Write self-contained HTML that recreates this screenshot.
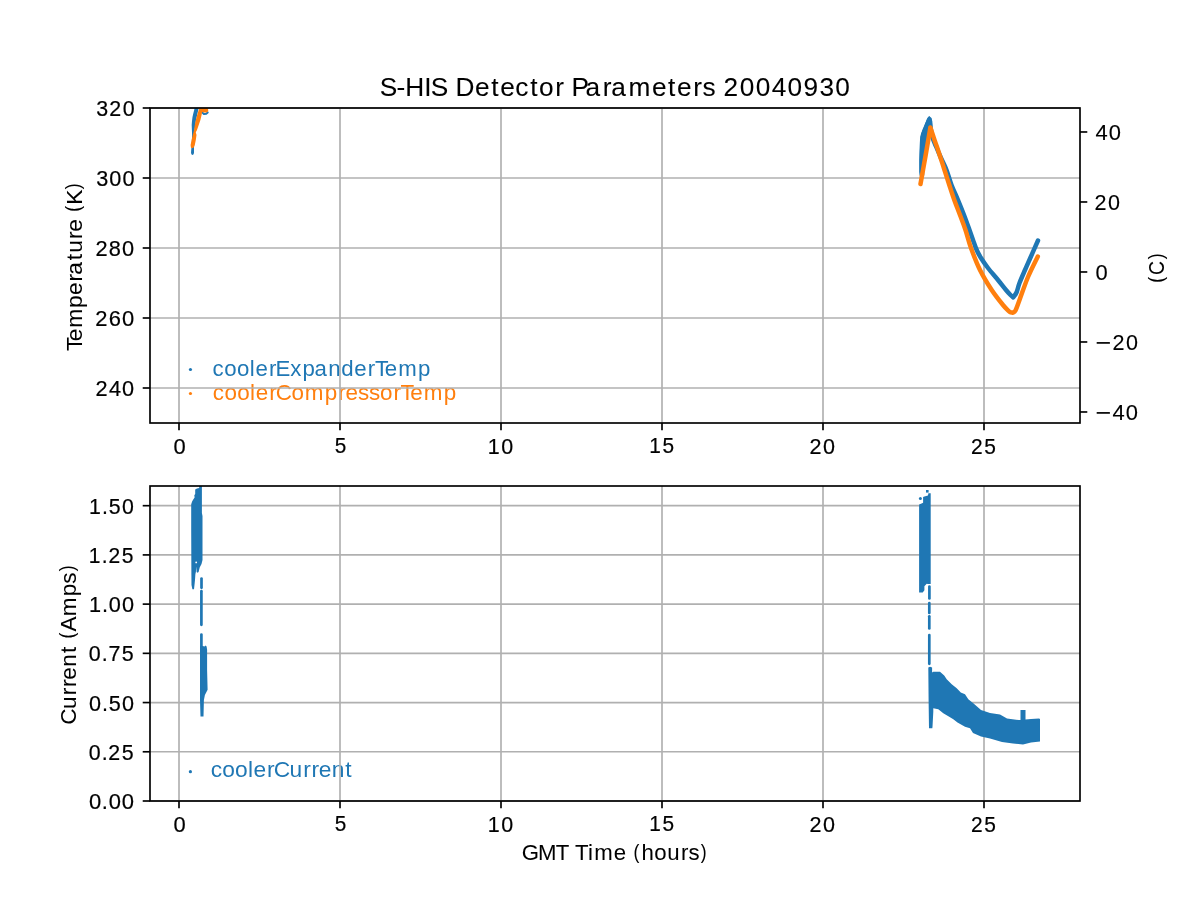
<!DOCTYPE html><html><head><meta charset="utf-8"><title>S-HIS Detector Parameters 20040930</title><style>html,body{margin:0;padding:0;background:#fff;overflow:hidden;}svg{display:block;will-change:transform;}text{font-family:"Liberation Sans",sans-serif;}</style></head><body>
<svg width="1200" height="900" viewBox="0 0 1200 900">
<rect width="1200" height="900" fill="#fff"/>
<text transform="translate(321.70 375.62) scale(1.0081 1)" x="-108.28 -96.69 -84.10 -71.28 -65.72 -52.35 -45.76 -31.30 -19.12 -7.19 6.47 19.36 32.39 45.75 52.83 62.61 75.94 95.61" y="0" font-size="22.08" fill="#1f77b4">coolerExpanderTemp</text>
<text transform="translate(334.65 399.57) scale(1.0163 1)" x="-119.91 -108.42 -95.93 -83.18 -77.69 -64.42 -57.88 -42.55 -29.35 -9.82 3.57 10.76 23.08 33.72 44.53 57.80 64.80 74.51 87.71 107.25" y="0" font-size="22.08" fill="#ff7f0e">coolerCompressorTemp</text>
<text transform="translate(282.10 777.22) scale(1.0314 1)" x="-69.26 -57.94 -45.63 -33.01 -27.66 -14.56 -8.17 7.14 20.51 28.42 35.48 48.05 61.33" y="0" font-size="22.08" fill="#1f77b4">coolerCurrent</text>
<circle cx="190.45" cy="369.5" r="1.6" fill="#1f77b4"/>
<circle cx="190.45" cy="393.5" r="1.6" fill="#ff7f0e"/>
<circle cx="190.4" cy="771.7" r="1.6" fill="#1f77b4"/>
<g stroke="#b0b0b0" stroke-width="1.6667" stroke-linecap="butt"><line x1="179.00" y1="108" x2="179.00" y2="423"/><line x1="340.00" y1="108" x2="340.00" y2="423"/><line x1="501.00" y1="108" x2="501.00" y2="423"/><line x1="662.00" y1="108" x2="662.00" y2="423"/><line x1="823.00" y1="108" x2="823.00" y2="423"/><line x1="984.00" y1="108" x2="984.00" y2="423"/><line x1="150" y1="388.00" x2="1080" y2="388.00"/><line x1="150" y1="318.00" x2="1080" y2="318.00"/><line x1="150" y1="248.00" x2="1080" y2="248.00"/><line x1="150" y1="178.00" x2="1080" y2="178.00"/><line x1="150" y1="108.00" x2="1080" y2="108.00"/></g>
<g stroke="#b0b0b0" stroke-width="1.6667" stroke-linecap="butt"><line x1="179.00" y1="486" x2="179.00" y2="801"/><line x1="340.00" y1="486" x2="340.00" y2="801"/><line x1="501.00" y1="486" x2="501.00" y2="801"/><line x1="662.00" y1="486" x2="662.00" y2="801"/><line x1="823.00" y1="486" x2="823.00" y2="801"/><line x1="984.00" y1="486" x2="984.00" y2="801"/><line x1="150" y1="801.00" x2="1080" y2="801.00"/><line x1="150" y1="751.78" x2="1080" y2="751.78"/><line x1="150" y1="702.56" x2="1080" y2="702.56"/><line x1="150" y1="653.34" x2="1080" y2="653.34"/><line x1="150" y1="604.12" x2="1080" y2="604.12"/><line x1="150" y1="554.91" x2="1080" y2="554.91"/><line x1="150" y1="505.69" x2="1080" y2="505.69"/></g>
<defs><clipPath id="cT"><rect x="150" y="108" width="930" height="315"/></clipPath><clipPath id="cA"><rect x="150" y="486" width="930" height="315"/></clipPath></defs>
<g clip-path="url(#cT)">
<polygon fill="#1f77b4" points="194.6,108.0 194.2,110.0 193.3,113.5 192.5,117.0 192.0,121.0 191.7,125.0 191.9,130.0 192.1,135.0 191.7,145.0 191.2,150.0 191.0,153.0 191.6,154.6 192.4,155.0 193.4,154.6 194.0,153.0 194.0,148.0 194.6,130.0 196.0,120.0 198.7,108.0"/>
<polyline fill="none" stroke="#1f77b4" stroke-width="2" stroke-linecap="round" stroke-linejoin="round" points="202.2,112.4 203.9,114.1 206.2,113.8 207.7,112.4"/>
<polygon fill="#ff7f0e" points="199.2,108.0 207.5,108.0 208.3,110.0 208.0,111.5 206.6,112.6 204.0,112.6 202.1,112.0 201.6,115.0 200.4,120.0 198.7,125.0 197.0,130.0 195.8,132.3 196.5,135.0 195.8,140.0 194.8,145.0 193.8,147.6 192.2,148.2 190.9,147.5 190.6,145.0 191.6,140.0 192.8,135.0 194.1,130.0 194.8,125.0 195.8,120.0 197.2,115.0 198.7,110.0"/>
<path fill="none" stroke="#1f77b4" stroke-width="4.5" stroke-linecap="round" stroke-linejoin="round" d="M922.00,175.00 C921.98,172.50 921.83,165.00 921.90,160.00 C921.97,155.00 922.22,148.83 922.40,145.00 C922.58,141.17 922.70,139.25 923.00,137.00 C923.30,134.75 923.62,133.33 924.20,131.50 C924.78,129.67 925.62,128.03 926.50,126.00 C927.38,123.97 929.00,120.42 929.50,119.30 M929.50,119.30 C929.63,120.42 929.83,123.05 930.30,126.00 C930.77,128.95 931.30,133.50 932.30,137.00 C933.30,140.50 934.85,143.50 936.30,147.00 C937.75,150.50 939.30,154.17 941.00,158.00 C942.70,161.83 944.75,165.50 946.50,170.00 C948.25,174.50 949.58,180.00 951.50,185.00 C953.42,190.00 955.92,195.00 958.00,200.00 C960.08,205.00 962.08,210.00 964.00,215.00 C965.92,220.00 968.00,225.83 969.50,230.00 C971.00,234.17 971.80,236.67 973.00,240.00 C974.20,243.33 975.37,247.00 976.70,250.00 C978.03,253.00 979.12,255.00 981.00,258.00 C982.88,261.00 985.17,264.33 988.00,268.00 C990.83,271.67 995.00,276.33 998.00,280.00 C1001.00,283.67 1003.92,287.50 1006.00,290.00 C1008.08,292.50 1009.30,293.78 1010.50,295.00 C1011.70,296.22 1012.75,296.92 1013.20,297.30 M1013.20,297.30 C1013.75,296.50 1015.45,294.88 1016.50,292.50 C1017.55,290.12 1018.08,286.75 1019.50,283.00 C1020.92,279.25 1023.17,274.25 1025.00,270.00 C1026.83,265.75 1028.33,262.42 1030.50,257.50 C1032.67,252.58 1036.75,243.33 1038.00,240.50"/>
<polygon fill="#1f77b4" points="929.6,116.0 931.2,118.5 932.3,121.1 932.5,127.0 930.4,127.5 928.5,138.0 926.5,149.0 924.5,160.0 922.5,171.0 921.5,176.5 920.0,176.8 919.2,172.0 919.2,160.0 919.5,150.0 919.8,143.3 920.2,136.7 921.1,133.6 923.3,128.7 924.7,125.1 926.9,118.9 928.3,116.8"/>
<path fill="none" stroke="#ff7f0e" stroke-width="4.5" stroke-linecap="round" stroke-linejoin="round" d="M920.50,184.00 C921.33,179.33 923.85,165.42 925.50,156.00 C927.15,146.58 929.58,132.25 930.40,127.50 M930.40,127.50 C931.08,129.58 933.23,136.25 934.50,140.00 C935.77,143.75 936.87,146.67 938.00,150.00 C939.13,153.33 940.22,156.67 941.30,160.00 C942.38,163.33 943.17,165.83 944.50,170.00 C945.83,174.17 947.67,180.00 949.30,185.00 C950.93,190.00 952.52,195.00 954.30,200.00 C956.08,205.00 958.13,210.00 960.00,215.00 C961.87,220.00 963.67,224.50 965.50,230.00 C967.33,235.50 968.58,241.33 971.00,248.00 C973.42,254.67 976.55,263.00 980.00,270.00 C983.45,277.00 987.87,284.17 991.70,290.00 C995.53,295.83 1000.20,301.53 1003.00,305.00 C1005.80,308.47 1007.17,309.57 1008.50,310.80 C1009.83,312.03 1010.25,312.10 1011.00,312.40 C1011.75,312.70 1012.67,312.57 1013.00,312.60 M1013.00,312.60 C1013.43,312.20 1014.52,312.30 1015.60,310.20 C1016.68,308.10 1017.43,305.53 1019.50,300.00 C1021.57,294.47 1024.95,284.25 1028.00,277.00 C1031.05,269.75 1036.17,259.92 1037.80,256.50"/>
</g>
<g clip-path="url(#cA)">
<polygon fill="#1f77b4" points="199.2,486.0 201.9,486.0 201.9,513.0 202.5,516.0 202.5,560.0 201.5,564.0 199.7,567.5 198.6,571.9 197.5,572.8 196.6,572.0 196.4,566.5 195.9,572.0 195.4,574.0 195.0,580.0 194.7,583.0 194.0,589.2 192.4,589.2 191.5,585.0 191.4,575.0 191.2,530.0 191.2,504.2 192.1,501.6 193.4,499.3 194.6,497.5 194.3,495.3 195.2,494.0 195.2,489.6 197.0,488.5 199.2,488.0"/>
<circle cx="196.2" cy="562.4" r="0.9" fill="#fff"/>
<g stroke="#1f77b4" stroke-width="2.7" stroke-linecap="round"><line x1="201.5" y1="578.5" x2="201.5" y2="587.8"/><line x1="201.4" y1="591.2" x2="201.4" y2="624.8"/><line x1="201.4" y1="634.6" x2="201.4" y2="646"/></g>
<polygon fill="#1f77b4" points="200.0,646.0 202.8,646.0 204.5,646.5 205.5,645.5 206.6,646.5 207.1,649.8 207.1,670.0 207.6,689.7 204.9,695.0 203.9,700.0 203.5,716.6 200.5,716.6 200.0,700.0"/>
<polygon fill="#1f77b4" points="919.1,504.4 921.0,503.8 923.1,502.7 923.1,497.0 924.4,496.4 928.0,495.6 928.4,493.3 930.7,493.3 930.7,584.1 928.0,584.1 926.7,583.7 924.4,586.3 924.4,590.3 922.7,592.6 919.1,592.6"/>
<circle cx="920.4" cy="498.4" r="1.5" fill="#1f77b4"/><rect x="926" y="490" width="2.6" height="2.6" fill="#1f77b4"/>
<g stroke="#1f77b4" stroke-width="2.7" stroke-linecap="round"><line x1="929.4" y1="586.5" x2="929.4" y2="598.4"/><line x1="929.3" y1="603" x2="929.3" y2="613"/><line x1="929.3" y1="616.3" x2="929.3" y2="628.5"/><line x1="929.3" y1="635" x2="929.3" y2="663.8"/></g>
<polygon fill="#1f77b4" points="928.3,667.5 930.0,666.8 932.1,667.5 932.1,672.5 933.3,671.7 940.0,671.7 944.2,675.4 946.7,679.2 951.7,684.2 956.7,688.3 960.8,692.5 965.0,694.2 968.3,699.2 973.0,703.0 981.0,710.0 990.0,713.0 1000.0,714.5 1007.0,718.5 1019.0,720.0 1020.5,720.0 1020.5,710.0 1025.5,710.0 1025.5,719.5 1031.0,719.0 1039.0,718.5 1040.0,719.0 1040.0,741.5 1031.0,742.5 1023.0,744.5 1013.0,743.5 1002.0,742.0 990.0,738.5 981.0,736.5 973.0,733.0 970.0,728.3 965.0,726.7 957.5,722.5 953.3,719.2 949.2,716.7 943.3,713.3 938.3,709.2 933.3,708.3 933.3,711.7 932.5,726.7 932.3,728.3 929.0,728.3 928.6,700.0"/>
</g>
<g stroke="#000" stroke-width="1.6667" stroke-linecap="butt" fill="none"><line x1="179.00" y1="423" x2="179.00" y2="430.29"/><line x1="340.00" y1="423" x2="340.00" y2="430.29"/><line x1="501.00" y1="423" x2="501.00" y2="430.29"/><line x1="662.00" y1="423" x2="662.00" y2="430.29"/><line x1="823.00" y1="423" x2="823.00" y2="430.29"/><line x1="984.00" y1="423" x2="984.00" y2="430.29"/><line x1="150" y1="388.00" x2="142.71" y2="388.00"/><line x1="150" y1="318.00" x2="142.71" y2="318.00"/><line x1="150" y1="248.00" x2="142.71" y2="248.00"/><line x1="150" y1="178.00" x2="142.71" y2="178.00"/><line x1="150" y1="108.00" x2="142.71" y2="108.00"/><line x1="1080" y1="411.98" x2="1087.29" y2="411.98"/><line x1="1080" y1="341.98" x2="1087.29" y2="341.98"/><line x1="1080" y1="271.98" x2="1087.29" y2="271.98"/><line x1="1080" y1="201.98" x2="1087.29" y2="201.98"/><line x1="1080" y1="131.98" x2="1087.29" y2="131.98"/><rect x="150" y="108" width="930" height="315" fill="none" stroke-linejoin="miter"/></g>
<g stroke="#000" stroke-width="1.6667" stroke-linecap="butt" fill="none"><line x1="179.00" y1="801" x2="179.00" y2="808.29"/><line x1="340.00" y1="801" x2="340.00" y2="808.29"/><line x1="501.00" y1="801" x2="501.00" y2="808.29"/><line x1="662.00" y1="801" x2="662.00" y2="808.29"/><line x1="823.00" y1="801" x2="823.00" y2="808.29"/><line x1="984.00" y1="801" x2="984.00" y2="808.29"/><line x1="150" y1="801.00" x2="142.71" y2="801.00"/><line x1="150" y1="751.78" x2="142.71" y2="751.78"/><line x1="150" y1="702.56" x2="142.71" y2="702.56"/><line x1="150" y1="653.34" x2="142.71" y2="653.34"/><line x1="150" y1="604.12" x2="142.71" y2="604.12"/><line x1="150" y1="554.91" x2="142.71" y2="554.91"/><line x1="150" y1="505.69" x2="142.71" y2="505.69"/><rect x="150" y="486" width="930" height="315" fill="none" stroke-linejoin="miter"/></g>
<text transform="translate(615.50 96.10) scale(0.9902 1)" x="-238.03 -221.17 -212.28 -193.17 -186.46 -169.41 -161.53 -141.83 -125.54 -116.40 -101.30 -86.23 -77.17 -60.82 -51.38 -44.49 -30.18 -12.86 -4.33 13.06 36.77 53.06 62.20 78.55 87.80 101.15 109.17 125.57 141.63 157.69 173.75 189.74 205.91 221.94" y="0" font-size="26.50" fill="#000" stroke="#000" stroke-width="0.08">S-HIS Detector Parameters 20040930</text>
<text transform="translate(81.74 267.50) rotate(-90) scale(1.0334 1)" x="-80.90 -71.34 -58.41 -39.15 -26.68 -13.59 -6.91 6.96 14.21 27.57 34.61" y="0" font-size="22.08" fill="#000" stroke="#000" stroke-width="0.04">Temperature</text><text transform="translate(81.74 267.50) rotate(-90) scale(0.7975 0.9019)" x="69.87" y="-1.53" font-size="22.08" fill="#000" stroke="#000" stroke-width="0.04">(</text><text transform="translate(81.74 267.50) rotate(-90) scale(1.0334 1)" x="60.74" y="0" font-size="22.08" fill="#000" stroke="#000" stroke-width="0.04">K</text><text transform="translate(81.74 267.50) rotate(-90) scale(0.7975 0.9019)" x="98.17" y="-1.53" font-size="22.08" fill="#000" stroke="#000" stroke-width="0.04">)</text>
<text transform="translate(75.74 644.50) rotate(-90) scale(1.0213 1)" x="-78.56 -63.12 -49.63 -41.64 -34.49 -21.80 -8.42" y="0" font-size="22.08" fill="#000" stroke="#000" stroke-width="0.04">Current</text><text transform="translate(75.74 644.50) rotate(-90) scale(0.7975 0.9019)" x="7.45" y="-1.53" font-size="22.08" fill="#000" stroke="#000" stroke-width="0.04">(</text><text transform="translate(75.74 644.50) rotate(-90) scale(1.0213 1)" x="12.67 27.75 47.20 59.59" y="0" font-size="22.08" fill="#000" stroke="#000" stroke-width="0.04">Amps</text><text transform="translate(75.74 644.50) rotate(-90) scale(0.7975 0.9019)" x="91.91" y="-1.53" font-size="22.08" fill="#000" stroke="#000" stroke-width="0.04">)</text>
<text transform="translate(614.50 860.04) scale(1.0050 1)" x="-92.39 -76.09 -58.43 -45.18 -39.25 -26.42 -20.16 -0.73" y="0" font-size="22.08" fill="#000" stroke="#000" stroke-width="0.04">GMT Time</text><text transform="translate(614.50 860.04) scale(0.7975 0.9019)" x="23.89" y="-1.53" font-size="22.08" fill="#000" stroke="#000" stroke-width="0.04">(</text><text transform="translate(614.50 860.04) scale(1.0050 1)" x="26.76 39.61 52.42 66.10 73.63" y="0" font-size="22.08" fill="#000" stroke="#000" stroke-width="0.04">hours</text><text transform="translate(614.50 860.04) scale(0.7975 0.9019)" x="108.28" y="-1.53" font-size="22.08" fill="#000" stroke="#000" stroke-width="0.04">)</text>
<text transform="translate(1164.03 268.00) rotate(-90) scale(0.7975 0.9019)" x="-18.38" y="-1.53" font-size="22.08" fill="#000" stroke="#000" stroke-width="0.08">(</text><text transform="translate(1164.03 268.00) rotate(-90) scale(0.8758 1)" x="-8.08" y="0" font-size="22.08" fill="#000" stroke="#000" stroke-width="0.08">C</text><text transform="translate(1164.03 268.00) rotate(-90) scale(0.7975 0.9019)" x="11.03" y="-1.53" font-size="22.08" fill="#000" stroke="#000" stroke-width="0.08">)</text>
<text transform="translate(179.50 453.58) scale(0.9945 1)" x="-6.14" y="0" font-size="22.08" fill="#000" stroke="#000" stroke-width="0.2">0</text>
<text transform="translate(340.50 453.45) scale(0.9385 1)" x="-6.12" y="0" font-size="22.08" fill="#000" stroke="#000" stroke-width="0.2">5</text>
<text transform="translate(501.00 453.58) scale(0.9733 1)" x="-13.50 0.17" y="0" font-size="22.08" fill="#000" stroke="#000" stroke-width="0.2">10</text>
<text transform="translate(662.00 453.45) scale(0.9439 1)" x="-13.49 0.51" y="0" font-size="22.08" fill="#000" stroke="#000" stroke-width="0.2">15</text>
<text transform="translate(822.50 453.58) scale(0.9769 1)" x="-13.26 0.54" y="0" font-size="22.08" fill="#000" stroke="#000" stroke-width="0.2">20</text>
<text transform="translate(983.50 453.58) scale(0.9484 1)" x="-13.24 0.88" y="0" font-size="22.08" fill="#000" stroke="#000" stroke-width="0.2">25</text>
<text transform="translate(179.50 831.58) scale(0.9945 1)" x="-6.14" y="0" font-size="22.08" fill="#000" stroke="#000" stroke-width="0.2">0</text>
<text transform="translate(340.50 831.45) scale(0.9385 1)" x="-6.12" y="0" font-size="22.08" fill="#000" stroke="#000" stroke-width="0.2">5</text>
<text transform="translate(501.00 831.58) scale(0.9733 1)" x="-13.50 0.17" y="0" font-size="22.08" fill="#000" stroke="#000" stroke-width="0.2">10</text>
<text transform="translate(662.00 831.45) scale(0.9439 1)" x="-13.49 0.51" y="0" font-size="22.08" fill="#000" stroke="#000" stroke-width="0.2">15</text>
<text transform="translate(822.50 831.58) scale(0.9769 1)" x="-13.26 0.54" y="0" font-size="22.08" fill="#000" stroke="#000" stroke-width="0.2">20</text>
<text transform="translate(983.50 831.58) scale(0.9484 1)" x="-13.24 0.88" y="0" font-size="22.08" fill="#000" stroke="#000" stroke-width="0.2">25</text>
<text transform="translate(115.00 395.58) scale(0.9831 1)" x="-19.93 -6.22 7.21" y="0" font-size="22.08" fill="#000" stroke="#000" stroke-width="0.2">240</text>
<text transform="translate(115.00 325.58) scale(0.9942 1)" x="-19.77 -6.22 7.06" y="0" font-size="22.08" fill="#000" stroke="#000" stroke-width="0.2">260</text>
<text transform="translate(115.00 255.58) scale(0.9864 1)" x="-19.88 -6.22 7.17" y="0" font-size="22.08" fill="#000" stroke="#000" stroke-width="0.2">280</text>
<text transform="translate(115.50 185.58) scale(0.9814 1)" x="-19.67 -6.25 7.20" y="0" font-size="22.08" fill="#000" stroke="#000" stroke-width="0.2">300</text>
<text transform="translate(115.50 115.58) scale(0.9696 1)" x="-19.84 -6.53 7.37" y="0" font-size="22.08" fill="#000" stroke="#000" stroke-width="0.2">320</text>
<text transform="translate(111.50 808.58) scale(0.9961 1)" x="-22.70 -9.71 -2.83 10.42" y="0" font-size="22.08" fill="#000" stroke="#000" stroke-width="0.2">0.00</text>
<text transform="translate(111.00 759.58) scale(0.9676 1)" x="-22.97 -9.68 -2.79 11.05" y="0" font-size="22.08" fill="#000" stroke="#000" stroke-width="0.2">0.25</text>
<text transform="translate(111.50 710.58) scale(0.9787 1)" x="-23.00 -9.83 -2.85 10.72" y="0" font-size="22.08" fill="#000" stroke="#000" stroke-width="0.2">0.50</text>
<text transform="translate(111.00 660.58) scale(0.9719 1)" x="-22.89 -9.65 -2.56 10.98" y="0" font-size="22.08" fill="#000" stroke="#000" stroke-width="0.2">0.75</text>
<text transform="translate(112.00 611.58) scale(0.9832 1)" x="-23.50 -10.27 -3.25 10.18" y="0" font-size="22.08" fill="#000" stroke="#000" stroke-width="0.2">1.00</text>
<text transform="translate(111.50 562.58) scale(0.9535 1)" x="-23.80 -10.26 -3.22 10.83" y="0" font-size="22.08" fill="#000" stroke="#000" stroke-width="0.2">1.25</text>
<text transform="translate(112.00 513.58) scale(0.9652 1)" x="-23.82 -10.40 -3.28 10.48" y="0" font-size="22.08" fill="#000" stroke="#000" stroke-width="0.2">1.50</text>
<text transform="translate(1117.00 419.58) scale(1.2155 1.0985)" x="-17.65" y="1.40" font-size="22.08" fill="#000" stroke="#000" stroke-width="0.12">−</text><text transform="translate(1117.00 419.58) scale(0.9945 1)" x="-4.46 8.82" y="0" font-size="22.08" fill="#000" stroke="#000" stroke-width="0.12">40</text>
<text transform="translate(1117.00 349.58) scale(1.2155 1.0985)" x="-17.65" y="1.40" font-size="22.08" fill="#000" stroke="#000" stroke-width="0.12">−</text><text transform="translate(1117.00 349.58) scale(0.9769 1)" x="-4.71 9.09" y="0" font-size="22.08" fill="#000" stroke="#000" stroke-width="0.12">20</text>
<text transform="translate(1101.50 279.58) scale(0.9945 1)" x="-6.14" y="0" font-size="22.08" fill="#000" stroke="#000" stroke-width="0.12">0</text>
<text transform="translate(1107.50 209.58) scale(0.9769 1)" x="-13.26 0.54" y="0" font-size="22.08" fill="#000" stroke="#000" stroke-width="0.12">20</text>
<text transform="translate(1108.00 139.58) scale(0.9945 1)" x="-12.60 0.68" y="0" font-size="22.08" fill="#000" stroke="#000" stroke-width="0.12">40</text>
</svg></body></html>
